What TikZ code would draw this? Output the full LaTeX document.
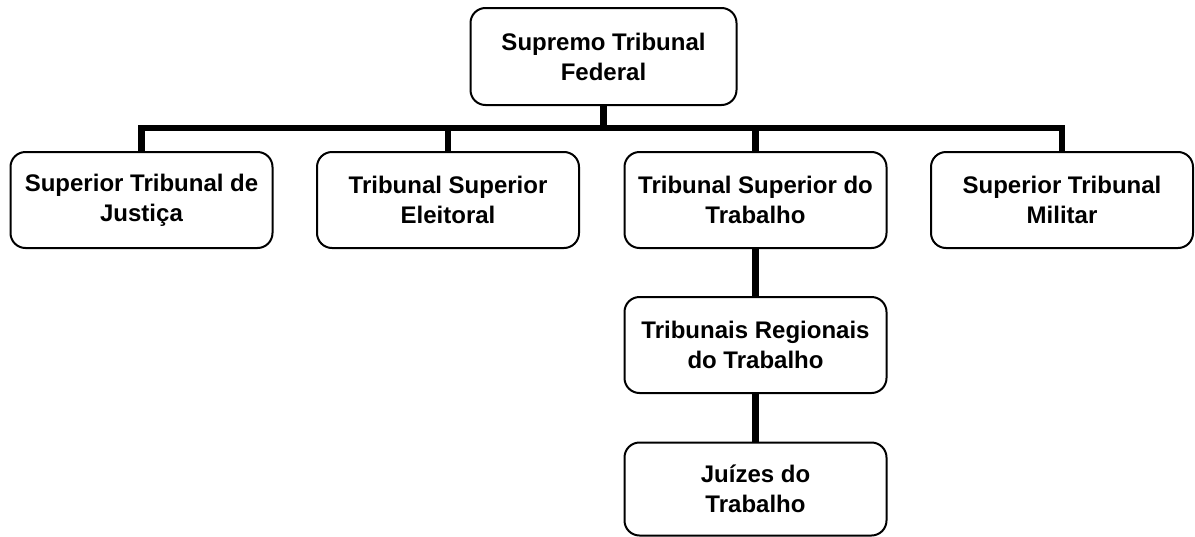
\documentclass[tikz,border=0pt]{standalone}
\usepackage{fontspec}
\setmainfont{Liberation Sans}
\begin{document}
\begin{tikzpicture}[x=1pt,y=-1pt,
  box/.style={draw, line width=2pt, rounded corners=15pt, minimum width=262pt, minimum height=96pt, align=center, inner sep=0pt, font=\fontsize{24}{30}\selectfont\bfseries},
  conn/.style={line width=6.5pt, line join=miter}]
\useasboundingbox (0,0) rectangle (1195,536);
\node[box, minimum width=266pt, minimum height=97pt] (stf) at (603.5,56.5) {Supremo Tribunal\\Federal};
\node[box] (stj) at (141.5,200) {Superior Tribunal de\\Justiça};
\node[box] (tse) at (448,200) {Tribunal Superior\\Eleitoral};
\node[box] (tst) at (755.5,200) {Tribunal Superior do\\Trabalho};
\node[box] (stm) at (1062,200) {Superior Tribunal\\Militar};
\node[box] (trt) at (755.5,345) {Tribunais Regionais\\do Trabalho};
\node[box, minimum height=93pt] (jt) at (755.5,489) {Juízes do\\Trabalho};
\coordinate (bar) at (0,128);
\draw[conn] (stj.north) -- (stj.north |- bar) -- (stm.north |- bar) -- (stm.north);
\draw[conn] (stf.south) -- (stf.south |- bar);
\draw[conn] (tse.north) -- (tse.north |- bar);
\draw[conn] (tst.north) -- (tst.north |- bar);
\draw[conn] (tst.south) -- (trt.north);
\draw[conn] (trt.south) -- (jt.north);
\end{tikzpicture}
\end{document}
